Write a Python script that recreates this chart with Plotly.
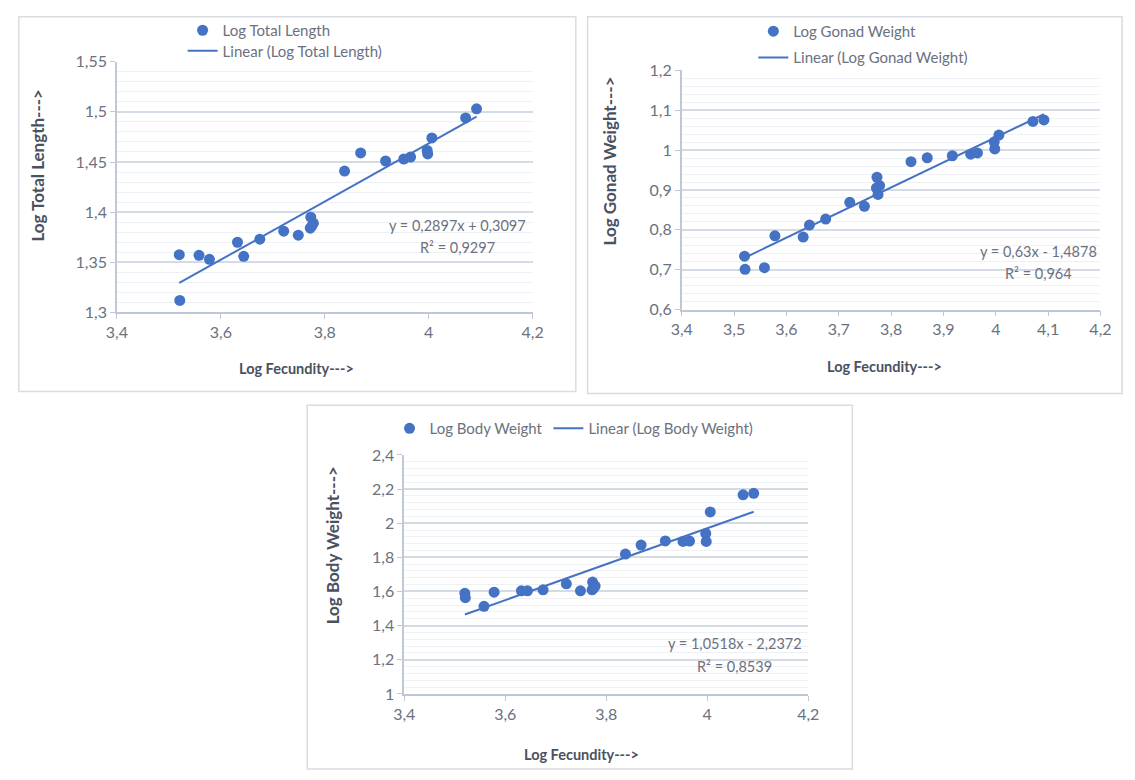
import plotly.graph_objects as go

W, H = 1135, 780

# ---------------- data ----------------
log_fecundity = [3.520, 3.521, 3.558, 3.578, 3.632, 3.644, 3.675, 3.721, 3.749,
                 3.773, 3.772, 3.778, 3.775, 3.838, 3.869, 3.917, 3.952, 3.965,
                 3.997, 3.998, 4.006, 4.071, 4.092]

log_total_length = [1.3576, 1.312, 1.357, 1.353, 1.370, 1.356, 1.373, 1.381, 1.377,
                    1.395, 1.384, 1.389, 1.386, 1.441, 1.459, 1.451, 1.453, 1.455,
                    1.4615, 1.458, 1.474, 1.494, 1.503]

log_gonad_weight = [0.734, 0.701, 0.705, 0.785, 0.782, 0.812, 0.827, 0.869, 0.859,
                    0.932, 0.905, 0.911, 0.889, 0.971, 0.981, 0.986, 0.990, 0.993,
                    1.021, 1.003, 1.038, 1.072, 1.076]

log_body_weight = [1.589, 1.564, 1.513, 1.596, 1.604, 1.604, 1.610, 1.645, 1.604,
                   1.655, 1.610, 1.632, 1.620, 1.819, 1.872, 1.896, 1.893, 1.895,
                   1.940, 1.893, 2.066, 2.166, 2.175]

series_names = ["Log Total Length", "Log Gonad Weight", "Log Body Weight"]
trend_names = ["Linear (Log Total Length)", "Linear (Log Gonad Weight)", "Linear (Log Body Weight)"]
slopes = [0.2897, 0.63, 1.0518]
intercepts = [0.3097, -1.4878, -2.2372]
equations = ["y = 0,2897x + 0,3097", "y = 0,63x - 1,4878", "y = 1,0518x - 2,2372"]
r2_texts = ["R² = 0,9297", "R² = 0,964", "R² = 0,8539"]
y_titles = ["Log Total Length--->", "Log Gonad Weight--->", "Log Body Weight--->"]
x_title = "Log Fecundity--->"

y_ranges = [[1.3, 1.55], [0.6, 1.2], [1.0, 2.4]]
y_major = [0.05, 0.1, 0.2]
y_minor = [0.01, 0.02, 0.04]
x_range = [3.4, 4.2]
x_major = [0.2, 0.1, 0.2]

y_values = [log_total_length, log_gonad_weight, log_body_weight]

# ---------------- layout geometry (window pixels) ----------------
plot_boxes = [(108, 53, 532, 310), (684, 62, 1111, 307), (401, 456, 813, 701)]
frames = [(8, 7, 576, 391), (588, 7, 1133, 393), (302, 405, 858, 778)]
eq_pos = [(455, 221, 243), (1048, 248, 270), (738, 649, 673)]
ytitle_pos = [(27, 159), (610, 155), (328, 549)]
xtitle_pos = [(291, 367), (891, 365), (582, 763)]
# (left x, centre y) of each legend entry: markers entry, trendline entry
legend_pos = [((175, 21), (175, 42)), ((757, 22), (757, 49)), ((386, 429), (548, 429))]

FONT = "Lato, 'Open Sans', sans-serif"
BLUE = "#4472C4"
TICK_COLOR = "#6B717E"
TITLE_COLOR = "#4A5160"
GRID = "#D5DBE5"
MINOR_GRID = "#EDF0F5"
AXIS_LINE = "#BFC8D6"


def px(x):
    return x / W


def py(y):
    return 1 - y / H


fig = go.Figure()
legend_font = dict(family=FONT, size=15, color=TICK_COLOR)
legend_layout = {}

for i in range(3):
    ax = "" if i == 0 else str(i + 1)
    xs = log_fecundity
    lg_pts = "legend" if i == 0 else "legend%d" % (2 * i + 1)
    lg_lin = "legend%d" % (2 * i + 2)
    fig.add_trace(go.Scatter(
        x=xs, y=y_values[i], mode="markers", name=series_names[i],
        marker=dict(color=BLUE, size=11, symbol="circle"),
        xaxis="x" + ax, yaxis="y" + ax, legend=lg_pts, hoverinfo="x+y"))
    x0, x1 = min(xs), max(xs)
    fig.add_trace(go.Scatter(
        x=[x0, x1], y=[slopes[i] * x0 + intercepts[i], slopes[i] * x1 + intercepts[i]],
        mode="lines", name=trend_names[i],
        line=dict(color=BLUE, width=2),
        xaxis="x" + ax, yaxis="y" + ax, legend=lg_lin, hoverinfo="skip"))

    for lg, (lx, ly) in zip((lg_pts, lg_lin), legend_pos[i]):
        legend_layout[lg] = dict(x=px(lx), y=py(ly), xanchor="left", yanchor="middle",
                                 orientation="v", font=legend_font,
                                 bgcolor="rgba(0,0,0,0)", borderwidth=0,
                                 itemclick=False, itemdoubleclick=False)

    l, t, r, b = plot_boxes[i]
    xaxis = dict(
        domain=[px(l), px(r)], range=x_range, dtick=x_major[i], tick0=3.4,
        tickformat=".2~f", showgrid=False, zeroline=False,
        showline=True, linecolor=AXIS_LINE, linewidth=1.5,
        ticks="outside", ticklen=5, tickcolor=AXIS_LINE,
        tickfont=dict(family=FONT, size=16, color=TICK_COLOR),
        anchor="y" + ax, fixedrange=True)
    yaxis = dict(
        domain=[py(b), py(t)], range=y_ranges[i], dtick=y_major[i], tick0=y_ranges[i][0],
        tickformat=".2~f", showgrid=True, gridcolor=GRID, gridwidth=1.5, zeroline=False,
        showline=True, linecolor=AXIS_LINE, linewidth=1.5,
        ticks="outside", ticklen=5, tickcolor=AXIS_LINE,
        tickfont=dict(family=FONT, size=16, color=TICK_COLOR),
        minor=dict(dtick=y_minor[i], showgrid=True, gridcolor=MINOR_GRID, gridwidth=1, ticks=""),
        anchor="x" + ax, fixedrange=True)
    fig.layout["xaxis" + ax] = xaxis
    fig.layout["yaxis" + ax] = yaxis

    # frame
    fl, ft, fr, fb = frames[i]
    fig.add_shape(type="rect", xref="paper", yref="paper",
                  x0=px(fl), x1=px(fr), y0=py(fb), y1=py(ft),
                  line=dict(color="#D9DCE1", width=1.5), fillcolor="rgba(0,0,0,0)", layer="below")

    # equation + R2
    ex, ey1, ey2 = eq_pos[i]
    for txt, yy in ((equations[i], ey1), (r2_texts[i], ey2)):
        fig.add_annotation(text=txt, xref="paper", yref="paper", x=px(ex), y=py(yy),
                           xanchor="center", yanchor="middle", showarrow=False,
                           font=dict(family=FONT, size=14.5, color=TICK_COLOR))
    # axis titles
    tx, ty = ytitle_pos[i]
    fig.add_annotation(text="<b>%s</b>" % y_titles[i], xref="paper", yref="paper",
                       x=px(tx), y=py(ty), xanchor="center", yanchor="middle",
                       textangle=-90, showarrow=False,
                       font=dict(family=FONT, size=17, color=TITLE_COLOR))
    tx, ty = xtitle_pos[i]
    fig.add_annotation(text="<b>%s</b>" % x_title, xref="paper", yref="paper",
                       x=px(tx), y=py(ty), xanchor="center", yanchor="middle",
                       showarrow=False,
                       font=dict(family=FONT, size=14.5, color=TITLE_COLOR))

fig.update_layout(
    width=W, height=H,
    margin=dict(l=0, r=0, t=0, b=0),
    paper_bgcolor="white", plot_bgcolor="white",
    separators=", ",
    showlegend=True,
    **legend_layout,
)

# remove the page's default body margin so the figure sits at the window origin
page_css = ("document.body.style.margin='0';"
            "document.body.style.overflow='hidden';")
fig.write_html("out.html", post_script=page_css, config={"displayModeBar": False})
